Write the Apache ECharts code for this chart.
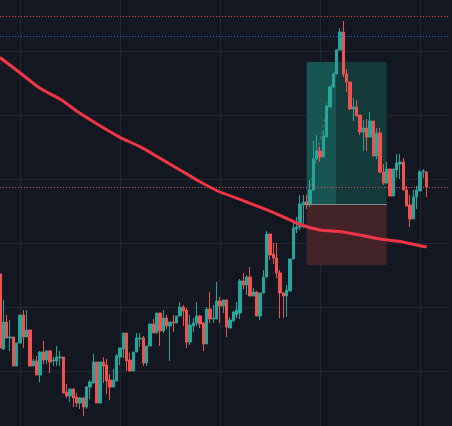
<!DOCTYPE html>
<html><head><meta charset="utf-8">
<script src="https://cdn.jsdelivr.net/npm/echarts@6/dist/echarts.min.js"></script>
<style>html,body{margin:0;padding:0;background:#131722;}#c{width:452px;height:426px;}</style>
</head><body><div id="c"></div>
<script>
// OHLC per bar (price units)
const opens = [161,86,113,97,98,69,92,120,98,105,
69,74,60,83,75,84,74,74,77,78,
43,39,46,38,32,37,28,48,52,73,
32,73,70,55,48,54,78,86,102,75,
64,83,96,97,72,89,111,102,122,104,
117,109,113,112,119,128,125,93,109,112,
119,112,91,126,116,116,134,129,135,107,
114,120,122,154,150,158,139,143,119,142,
158,201,181,177,162,142,139,144,176,206,
208,230,233,231,245,276,284,278,298,328,
348,361,385,403,361,353,326,328,320,303,
307,298,314,279,302,263,252,266,239,265,
271,273,245,230,216,238,244,263,263];
const closes = [87,113,97,98,69,92,120,98,105,69,
74,60,83,75,84,73,75,78,78,42,
39,46,37,32,37,28,48,53,73,32,
73,69,54,48,55,79,87,102,74,64,
83,97,97,72,89,111,102,122,104,117,
109,113,112,119,128,124,93,110,112,119,
111,91,126,116,117,134,129,135,108,115,
123,125,154,150,158,139,143,119,142,158,
201,180,177,162,142,139,145,176,207,208,
231,233,230,245,276,284,278,299,329,348,
361,385,403,361,353,326,328,319,303,307,
298,314,279,302,263,252,266,239,266,272,
273,245,229,216,238,245,263,264,248];
const lows = [85,85,97,84,69,69,92,87,98,69,
69,60,53,71,71,62,69,69,69,42,
37,33,28,28,26,19,26,36,52,32,
32,52,41,35,48,54,70,77,64,64,
64,83,88,69,69,89,102,102,89,102,
106,74,103,112,119,109,87,90,103,109,
107,84,91,112,112,116,112,122,98,107,
114,117,116,146,140,139,139,119,115,142,
158,175,171,157,117,117,118,144,176,202,
205,207,226,228,245,275,273,278,298,328,
347,361,385,358,343,325,314,319,300,284,
284,298,279,276,262,250,251,239,239,257,
256,245,229,208,216,226,244,257,238];
const highs = [163,135,120,115,98,92,120,125,125,105,
76,79,84,94,85,85,78,89,84,78,
51,46,47,42,38,38,49,55,81,73,
73,78,76,61,66,81,87,102,102,82,
83,102,102,99,89,111,116,122,122,125,
120,113,120,119,133,130,127,120,117,133,
120,113,128,143,130,153,138,135,136,118,
124,133,156,162,160,168,147,144,142,165,
204,201,192,192,165,143,150,176,215,218,
240,240,240,255,294,300,289,305,330,349,
362,386,407,414,366,353,337,335,320,315,
316,323,314,307,307,271,273,266,266,281,
281,277,249,240,245,249,265,266,264];

// moving average, read at sampled bars
const maBars   = [0,6,12,18,24,30,36,42,48,54,60,66,72,78,84,90,96,102,108,114,120,126,128];
const maValues = [377.5,362.3,346.7,336,321.7,309.3,297.7,288.3,276.7,265,253.3,243,235.6,227.8,219.7,210.5,205,203.5,200,196,193.5,189.2,188];

// horizontal level lines
const levelPrices = [418.5, 398.5, 247.5];
const levelColors = ['#f23645', '#2962ff', '#e0525c'];

// long-position tool
const entryPrice = 231, targetPrice = 373, stopPrice = 170;
const posStart = 92, posSplit = 101, posEnd = 116;
const projection = [[92, 231], [101, 373]];

const barCount = 136;
const categories = Array.from({length: barCount}, (_, i) => String(i));

const candleData = opens.map((o, i) => [o, closes[i], lows[i], highs[i]]);
const maData = maBars.map((b, i) => [b, maValues[i]]);

const chart = echarts.init(document.getElementById('c'), null, {renderer: 'canvas'});
chart.setOption({
  backgroundColor: '#131722',
  animation: false,
  grid: {left: 0, right: 2, top: -13, bottom: -9, containLabel: false, outerBoundsMode: 'none'},
  xAxis: {
    type: 'category', data: categories, boundaryGap: false,
    axisLine: {show: false}, axisTick: {show: false}, axisLabel: {show: false},
    splitLine: {show: true, interval: (idx) => (idx - 6) % 30 === 0, lineStyle: {color: '#232733', width: 1}}
  },
  yAxis: {
    type: 'value', min: 0, max: 448, interval: 64, scale: false,
    axisLine: {show: false}, axisTick: {show: false}, axisLabel: {show: false},
    splitLine: {show: true, lineStyle: {color: '#232733', width: 1}}
  },
  series: [
    {
      type: 'line', data: projection, z: 1, symbol: 'none', silent: true,
      lineStyle: {color: '#6a6d78', width: 1, type: [3, 3]}
    },
    {
      type: 'candlestick', data: candleData, barWidth: 2.8, clip: false, z: 2,
      itemStyle: {color: '#26a69a', color0: '#ef5350', borderColor: '#26a69a', borderColor0: '#ef5350', borderWidth: 1},
      markArea: {
        silent: true,
        data: [
          [{xAxis: posStart, yAxis: entryPrice, itemStyle: {color: '#185451'}}, {xAxis: posSplit, yAxis: targetPrice}],
          [{xAxis: posSplit, yAxis: entryPrice, itemStyle: {color: '#153a3b'}}, {xAxis: posEnd, yAxis: targetPrice}],
          [{xAxis: posStart, yAxis: stopPrice, itemStyle: {color: '#432328'}}, {xAxis: posEnd, yAxis: entryPrice}]
        ]
      },
      markLine: {
        silent: true, symbol: ['none', 'none'], label: {show: false},
        data: levelPrices.map((p, i) => ({yAxis: p, lineStyle: {color: levelColors[i], width: 1, type: [1, 2]}}))
          .concat([[{coord: [posStart, entryPrice], lineStyle: {color: '#8a8d96', width: 1, type: 'solid'}}, {coord: [posEnd, entryPrice]}]])
      }
    },
    {
      type: 'line', data: maData, z: 3, smooth: 0.2, symbol: 'none', silent: true,
      lineStyle: {color: '#f23645', width: 3}
    }
  ]
});
</script>
</body></html>
